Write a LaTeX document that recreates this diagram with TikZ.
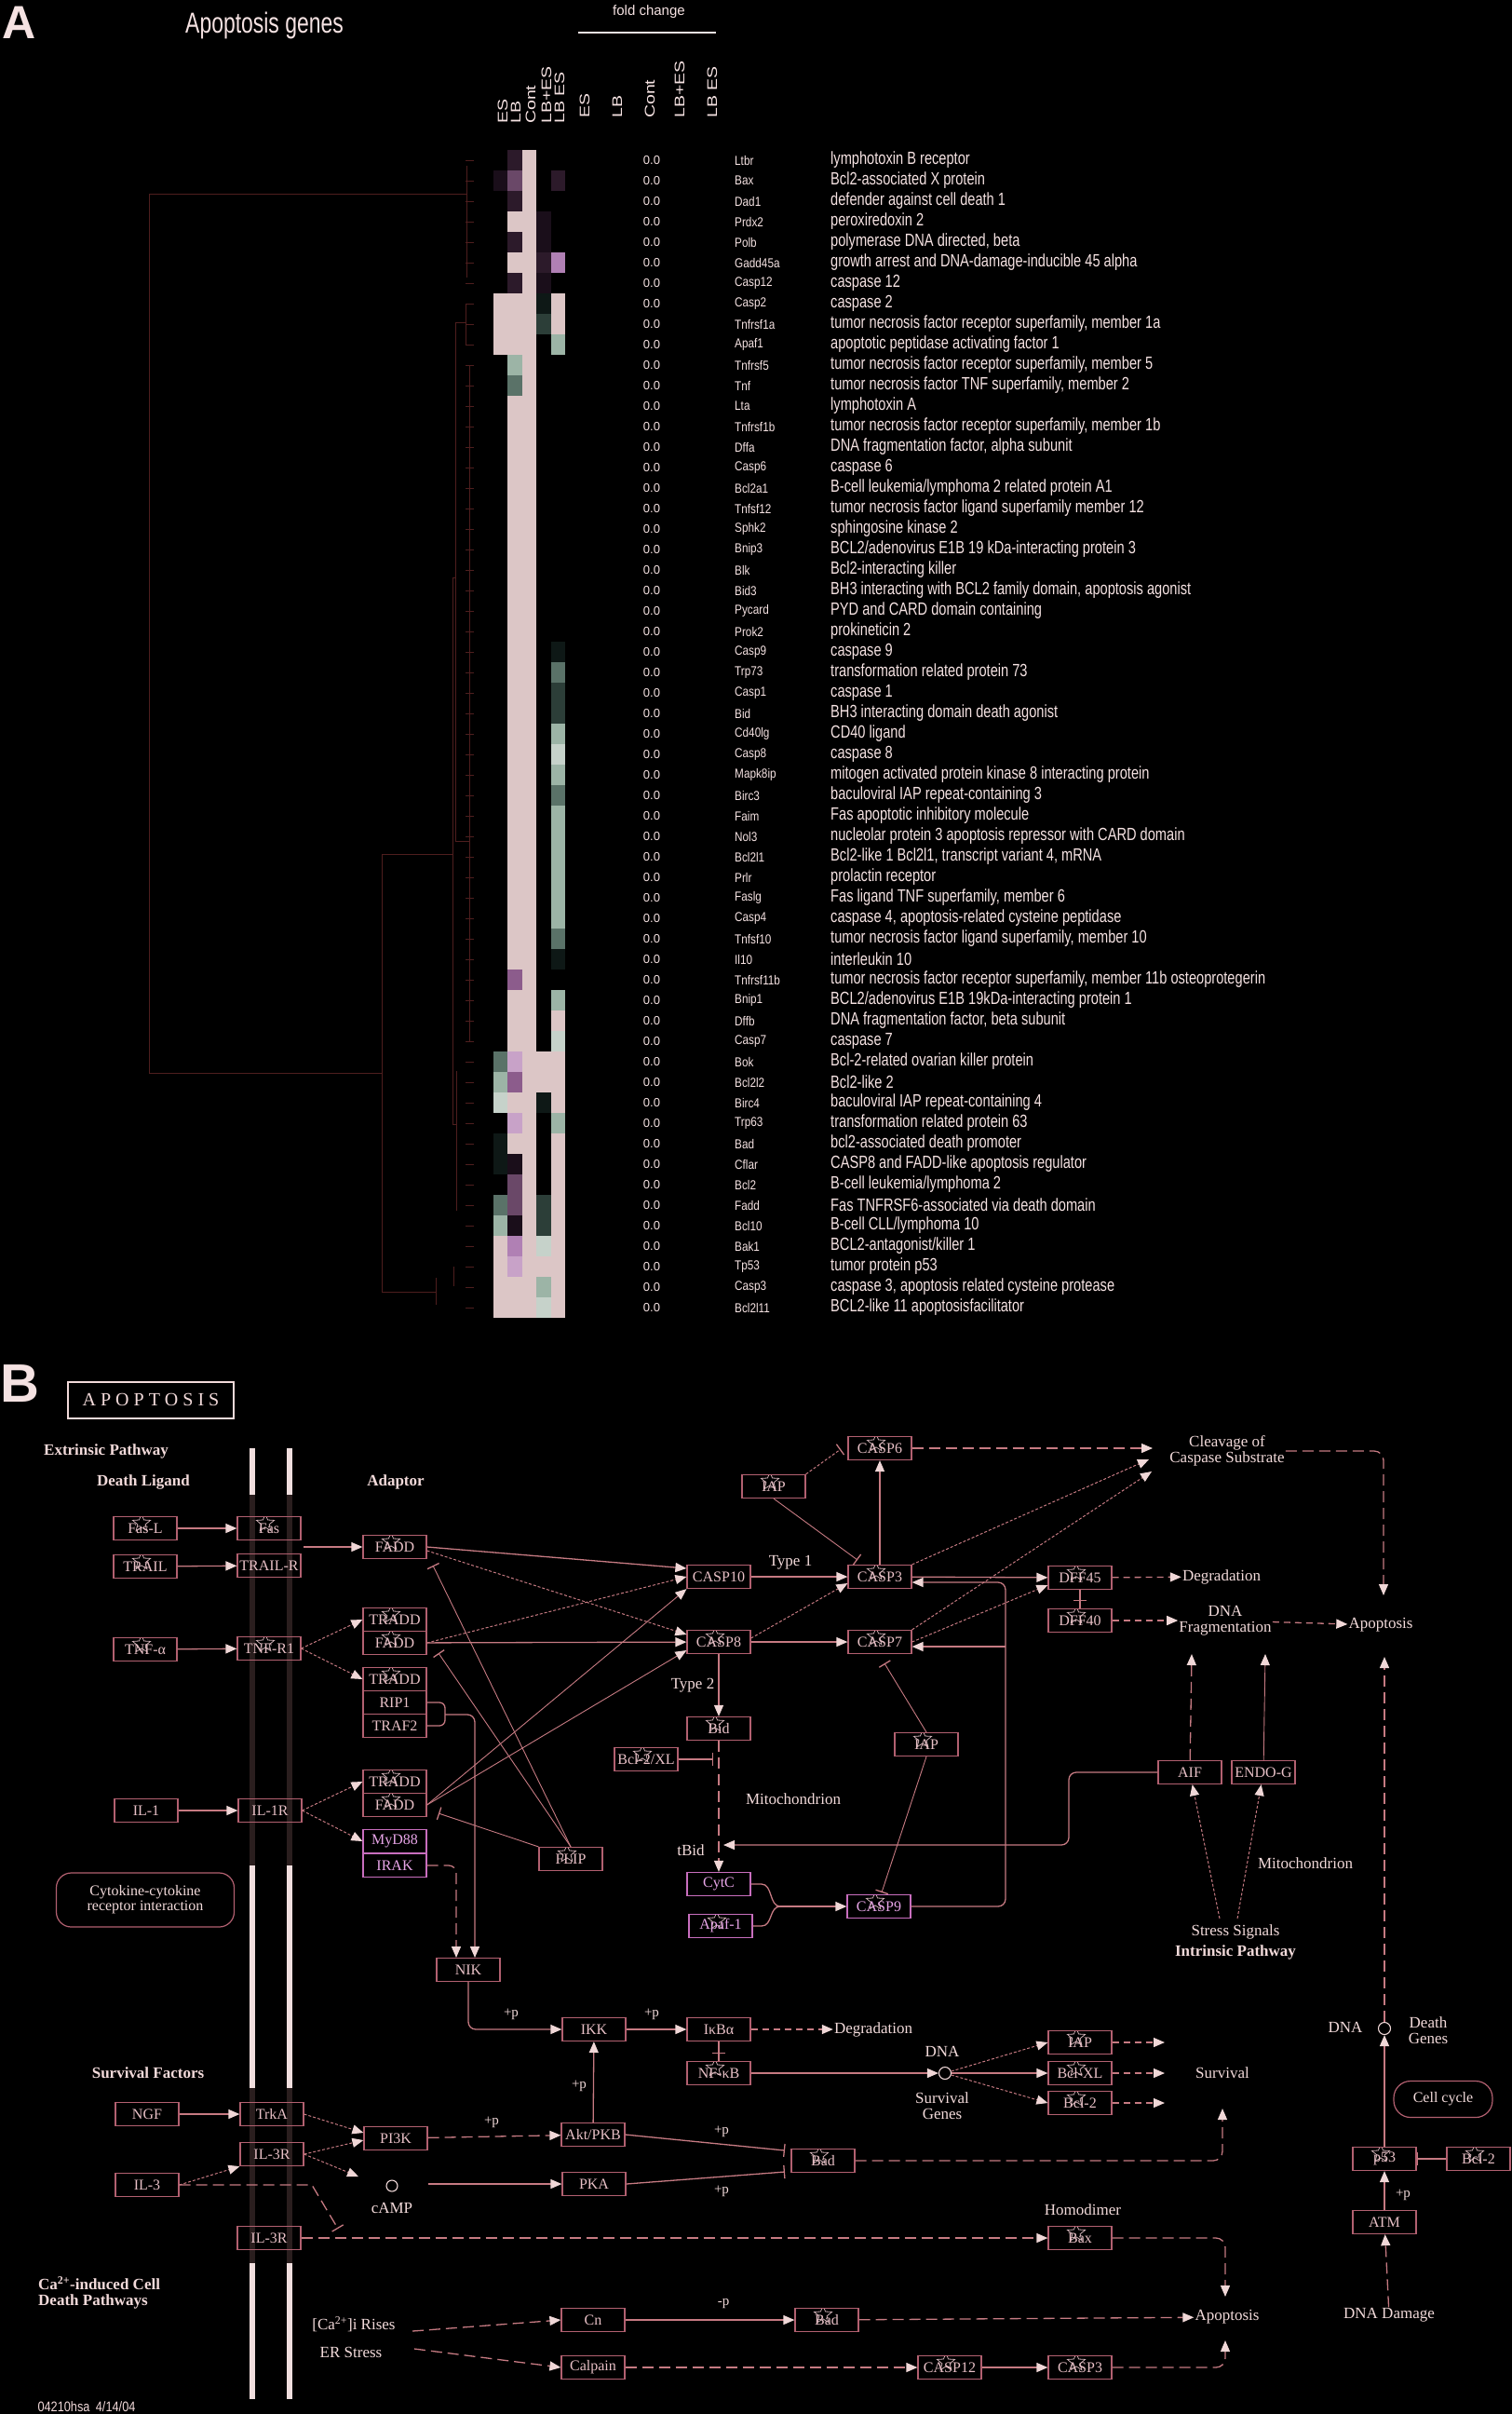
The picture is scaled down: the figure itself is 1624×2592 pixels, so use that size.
\documentclass[tikz,border=0pt]{standalone}
\usepackage{fontspec}
\setmainfont{Liberation Serif}
\setsansfont{Liberation Sans}
\usepackage{tikz}
\usetikzlibrary{arrows.meta,shapes.geometric,calc}

\newcommand{\fsz}[1]{\fontsize{#1}{#1}\selectfont}

\definecolor{txta}{RGB}{245,226,226}
\definecolor{dendc}{RGB}{78,30,30}
\definecolor{boxc}{RGB}{178,96,112}
\definecolor{boxt}{RGB}{232,192,198}
\definecolor{magc}{RGB}{200,110,190}
\definecolor{magt}{RGB}{232,165,232}
\definecolor{labt}{RGB}{242,218,218}
\definecolor{linec}{RGB}{198,122,130}
\definecolor{tipc}{RGB}{240,215,215}
\definecolor{starc}{RGB}{205,175,180}
\definecolor{memw}{RGB}{240,222,222}
\definecolor{memd}{RGB}{42,30,30}
% heat map colours
\definecolor{hk}{RGB}{0,0,0}
\definecolor{hp}{RGB}{220,198,198}
\definecolor{hd}{RGB}{44,26,42}
\definecolor{he}{RGB}{26,14,26}
\definecolor{hm}{RGB}{106,72,104}
\definecolor{hv}{RGB}{176,128,180}
\definecolor{hu}{RGB}{200,162,200}
\definecolor{hq}{RGB}{140,92,140}
\definecolor{hx}{RGB}{14,24,22}
\definecolor{hg}{RGB}{44,62,56}
\definecolor{hh}{RGB}{90,114,104}
\definecolor{hl}{RGB}{156,180,166}
\definecolor{hw}{RGB}{198,210,202}

\begin{document}
\begin{tikzpicture}[
    x=1pt, y=-1pt,
    gene/.style={draw=boxc, line width=1.2pt, text=boxt, font=\fsz{16}, minimum width=68pt, minimum height=25pt, inner sep=0pt},
    mgene/.style={gene, draw=magc, text=magt},
    starmk/.style={star, star points=5, star point ratio=2.3, minimum size=20pt, inner sep=0pt, fill=black, draw=starc, line width=0.8pt},
    hit/.style={path picture={\node[starmk] at ([xshift=-4pt,yshift=-7pt]path picture bounding box.north) {};}},
    lbl/.style={text=labt, font=\fsz{17}, align=center, inner sep=1pt},
    hdr/.style={text=labt, font=\bfseries\fsz{17}, align=left, inner sep=1pt},
    rbox/.style={draw=boxc, line width=1.2pt, text=labt, font=\fsz{16}, align=center, rounded corners=16pt},
    circ/.style={circle, draw=labt, line width=1.1pt, minimum size=13pt, inner sep=0pt},
    sol/.style={draw=linec, line width=1.3pt},
    thn/.style={draw=linec, line width=0.9pt},
    dsh/.style={draw=linec, line width=1.3pt, dash pattern=on 12pt off 6pt},
    dshs/.style={draw=linec, line width=1.3pt, dash pattern=on 7pt off 5pt},
    dot/.style={draw=linec, line width=1pt, dash pattern=on 3pt off 2pt},
    tip/.style={-{Triangle[length=12pt,width=10pt,color=tipc]}},
    inh/.style={-{Bar[width=14pt,line width=1.3pt]}},
    symt/.style={font=\sffamily\fsz{14}, text=txta, inner sep=0pt, anchor=west},
    dsct/.style={font=\sffamily\fsz{19}, text=txta, inner sep=0pt, anchor=west},
    fct/.style={font=\sffamily\fsz{13}, text=txta, inner sep=0pt},
    colh/.style={font=\sffamily\fsz{15}, text=txta, rotate=90, anchor=west, inner sep=0pt},
    dend/.style={draw=dendc, line width=0.8pt}
]
\useasboundingbox (0,0) rectangle (1624,2592);
\fill[black] (0,0) rectangle (1624,2592);

% ---------------- A: heat map ----------------
\node[font=\sffamily\bfseries\fsz{50}, text=txta, anchor=north west, inner sep=0pt] (labA) at (2,7) {A};
\node[font=\sffamily\fsz{31}, text=txta, anchor=base west, inner sep=0pt] (ttlA) at (199,35) {\scalebox{0.74}[1]{Apoptosis genes}};
\node[font=\sffamily\fsz{15}, text=txta, anchor=base, inner sep=0pt] (fold) at (697,16) {fold change};
\draw[draw=txta, line width=2pt] (621,35) -- (769,35);

\foreach \cx/\ct [count=\k] in {540/ES,554/LB,570/Cont,587/LB+ES,601/LB ES}
  \node[colh] (ha\k) at (\cx,133) {\scalebox{1.3}[1]{\ct}};
\foreach \cx/\ct [count=\k] in {628/ES,663/LB,698/Cont,730/LB+ES,765/LB ES}
  \node[colh] (hb\k) at (\cx,127) {\scalebox{1.3}[1]{\ct}};

% cells: ES, LB, Cont, LB+ES, LB ES
\foreach \r/\ca/\cb/\cc/\cd/\ce in {
  1/hk/hd/hp/hk/hk, 2/he/hm/hp/hk/hd, 3/hk/hd/hp/hk/hk, 4/hk/hp/hp/he/hk,
  5/hk/hd/hp/he/hk, 6/hk/hp/hp/hd/hv, 7/hk/hd/hp/he/hk, 8/hp/hp/hp/hx/hp,
  9/hp/hp/hp/hg/hp, 10/hp/hp/hp/hk/hl, 11/hk/hl/hp/hk/hk, 12/hk/hh/hp/hk/hk,
  13/hk/hp/hp/hk/hk, 14/hk/hp/hp/hk/hk, 15/hk/hp/hp/hk/hk, 16/hk/hp/hp/hk/hk,
  17/hk/hp/hp/hk/hk, 18/hk/hp/hp/hk/hk, 19/hk/hp/hp/hk/hk, 20/hk/hp/hp/hk/hk,
  21/hk/hp/hp/hk/hk, 22/hk/hp/hp/hk/hk, 23/hk/hp/hp/hk/hk, 24/hk/hp/hp/hk/hk,
  25/hk/hp/hp/hk/hx, 26/hk/hp/hp/hk/hh, 27/hk/hp/hp/hk/hg, 28/hk/hp/hp/hk/hg,
  29/hk/hp/hp/hk/hl, 30/hk/hp/hp/hk/hw, 31/hk/hp/hp/hk/hl, 32/hk/hp/hp/hk/hh,
  33/hk/hp/hp/hk/hl, 34/hk/hp/hp/hk/hl, 35/hk/hp/hp/hk/hl, 36/hk/hp/hp/hk/hl,
  37/hk/hp/hp/hk/hl, 38/hk/hp/hp/hk/hl, 39/hk/hp/hp/hk/hh, 40/hk/hp/hp/hk/hx,
  41/hk/hq/hp/hk/hk, 42/hk/hp/hp/hk/hl, 43/hk/hp/hp/hk/hp, 44/hk/hp/hp/hk/hw,
  45/hh/hu/hp/hp/hp, 46/hl/hq/hp/hp/hp, 47/hw/hp/hp/hx/hp, 48/hk/hu/hp/hk/hl,
  49/hx/hp/hp/hk/hp, 50/hx/he/hp/hk/hp, 51/hk/hm/hp/hk/hp, 52/hh/hm/hp/hg/hp,
  53/hl/he/hp/hg/hp, 54/hp/hv/hp/hw/hp, 55/hp/hu/hp/hp/hp, 56/hp/hp/hp/hl/hp,
  57/hp/hp/hp/hw/hp}{
  \foreach \c [count=\j from 0] in {\ca,\cb,\cc,\cd,\ce}
    \fill[\c] ({530+15.4*\j},{161+22*(\r-1)}) rectangle ++(15.4,22);
}

% dendrogram
\draw[dend] (501,208) -- (160,208) -- (160,1152) -- (410,1152);
\draw[dend] (486,917) -- (410,917) -- (410,1387) -- (468,1387);
\draw[dend] (489,620) -- (486,620) -- (486,1207) -- (490,1207);
\draw[dend] (500,346) -- (489,346) -- (489,903) -- (504,903);
\draw[dend] (501,178) -- (501,298);
\draw[dend] (500,326) -- (500,370);
\draw[dend] (504,392) -- (504,1118);
\draw[dend] (490,1150) -- (490,1300);
\draw[dend] (487,1360) -- (487,1381);
\draw[dend] (468,1372) -- (468,1401);
\foreach \i in {0,...,56}
  \draw[dend] (500,{172+22*\i}) -- (509,{172+22*\i});

% gene list
\foreach \sym/\desc [count=\i from 0] in {
  Ltbr/{lymphotoxin B receptor},
  Bax/{Bcl2-associated X protein},
  Dad1/{defender against cell death 1},
  Prdx2/{peroxiredoxin 2},
  Polb/{polymerase DNA directed, beta},
  Gadd45a/{growth arrest and DNA-damage-inducible 45 alpha},
  Casp12/{caspase 12},
  Casp2/{caspase 2},
  Tnfrsf1a/{tumor necrosis factor receptor superfamily, member 1a},
  Apaf1/{apoptotic peptidase activating factor 1},
  Tnfrsf5/{tumor necrosis factor receptor superfamily, member 5},
  Tnf/{tumor necrosis factor TNF superfamily, member 2},
  Lta/{lymphotoxin A},
  Tnfrsf1b/{tumor necrosis factor receptor superfamily, member 1b},
  Dffa/{DNA fragmentation factor, alpha subunit},
  Casp6/{caspase 6},
  Bcl2a1/{B-cell leukemia/lymphoma 2 related protein A1},
  Tnfsf12/{tumor necrosis factor ligand superfamily member 12},
  Sphk2/{sphingosine kinase 2},
  Bnip3/{BCL2/adenovirus E1B 19 kDa-interacting protein 3},
  Blk/{Bcl2-interacting killer},
  Bid3/{BH3 interacting with BCL2 family domain, apoptosis agonist},
  Pycard/{PYD and CARD domain containing},
  Prok2/{prokineticin 2},
  Casp9/{caspase 9},
  Trp73/{transformation related protein 73},
  Casp1/{caspase 1},
  Bid/{BH3 interacting domain death agonist},
  Cd40lg/{CD40 ligand},
  Casp8/{caspase 8},
  Mapk8ip/{mitogen activated protein kinase 8 interacting protein},
  Birc3/{baculoviral IAP repeat-containing 3},
  Faim/{Fas apoptotic inhibitory molecule},
  Nol3/{nucleolar protein 3 apoptosis repressor with CARD domain},
  Bcl2l1/{Bcl2-like 1 Bcl2l1, transcript variant 4, mRNA},
  Prlr/{prolactin receptor},
  Faslg/{Fas ligand TNF superfamily, member 6},
  Casp4/{caspase 4, apoptosis-related cysteine peptidase},
  Tnfsf10/{tumor necrosis factor ligand superfamily, member 10},
  Il10/{interleukin 10},
  Tnfrsf11b/{tumor necrosis factor receptor superfamily, member 11b osteoprotegerin},
  Bnip1/{BCL2/adenovirus E1B 19kDa-interacting protein 1},
  Dffb/{DNA fragmentation factor, beta subunit},
  Casp7/{caspase 7},
  Bok/{Bcl-2-related ovarian killer protein},
  Bcl2l2/{Bcl2-like 2},
  Birc4/{baculoviral IAP repeat-containing 4},
  Trp63/{transformation related protein 63},
  Bad/{bcl2-associated death promoter},
  Cflar/{CASP8 and FADD-like apoptosis regulator},
  Bcl2/{B-cell leukemia/lymphoma 2},
  Fadd/{Fas TNFRSF6-associated via death domain},
  Bcl10/{B-cell CLL/lymphoma 10},
  Bak1/{BCL2-antagonist/killer 1},
  Tp53/{tumor protein p53},
  Casp3/{caspase 3, apoptosis related cysteine protease},
  Bcl2l11/{BCL2-like 11 apoptosisfacilitator}}{
  \node[fct] (fc\i) at (700,{172+22*\i}) {0.0};
  \node[symt] (sym\i) at (789,{172+22*\i}) {\scalebox{0.84}[1]{\sym}};
  \node[dsct] (dsc\i) at (892,{172+22*\i}) {\scalebox{0.77}[1]{\desc}};
}

% ---------------- B: pathway ----------------
\node[font=\sffamily\bfseries\fsz{58}, text=txta, anchor=north west, inner sep=0pt] (labB) at (0,1465) {B};
\node[draw=labt, line width=2pt, text=labt, font=\fsz{20}, minimum width=178pt, minimum height=39pt] (ttlB) at (162,1503) {A P O P T O S I S};

% membrane
\foreach \xm in {268,308} {
  \fill[memw] (\xm,1555) rectangle ++(6,50);
  \fill[memd] (\xm,1605) rectangle ++(6,398);
  \fill[memw] (\xm,2003) rectangle ++(6,239);
  \fill[memd] (\xm,2242) rectangle ++(6,188);
  \fill[memw] (\xm,2430) rectangle ++(6,146);
}

\node[hdr] (extrinsic) at (114,1558) {Extrinsic Pathway};
\node[hdr] (deathlig) at (154,1591) {Death Ligand};
\node[hdr] (adaptor) at (425,1591) {Adaptor};
\node[hdr] (survfac) at (159,2226) {Survival Factors};
\node[hdr, anchor=west] (calcium) at (40,2462) {Ca\textsuperscript{2+}-induced Cell\\Death Pathways};
\node[hdr, align=center] (intrinsic) at (1327,2096) {Intrinsic Pathway};

% receptors and adaptors
\node[gene,hit] (fasl) at (156,1641) {Fas-L};
\node[gene,hit] (trail) at (156,1682) {TRAIL};
\node[gene,hit] (fas) at (289,1641) {Fas};
\node[gene] (trailr) at (289,1681) {TRAIL-R};
\node[gene,hit] (faddA) at (424,1661) {FADD};
\node[gene,hit] (tnfa) at (156,1771) {TNF-α};
\node[gene,hit] (tnfr) at (289,1770) {TNF-R1};
\node[gene,hit] (traddA) at (424,1739) {TRADD};
\node[gene,hit] (faddB) at (424,1764) {FADD};
\node[gene,hit] (traddB) at (424,1803) {TRADD};
\node[gene] (rip) at (424,1828) {RIP1};
\node[gene] (traf) at (424,1853) {TRAF2};
\node[gene] (ilone) at (157,1944) {IL-1};
\node[gene] (ilr) at (290,1944) {IL-1R};
\node[gene,hit] (traddC) at (424,1913) {TRADD};
\node[gene,hit] (faddC) at (424,1938) {FADD};
\node[mgene] (myd) at (424,1977) {MyD88};
\node[mgene] (irak) at (424,2003) {IRAK};
\node[gene,hit] (flip) at (613,1996) {FLIP};
\node[rbox, minimum width=191pt, minimum height=58pt] (cytokine) at (156,2040) {Cytokine-cytokine\\receptor interaction};

% caspases
\node[gene] (casp10) at (772,1693) {CASP10};
\node[gene,hit] (caspeight) at (772,1763) {CASP8};
\node[gene,hit] (bid) at (772,1856) {Bid};
\node[gene,hit] (bclxl) at (694,1889) {Bcl-2/XL};
\node[mgene] (cytc) at (772,2023) {CytC};
\node[mgene,hit] (apaf) at (774,2068) {Apaf-1};
\node[mgene,hit] (caspnine) at (944,2047) {CASP9};
\node[gene,hit] (caspsix) at (945,1555) {CASP6};
\node[gene,hit] (iapA) at (831,1596) {IAP};
\node[gene,hit] (caspthree) at (945,1693) {CASP3};
\node[gene,hit] (caspseven) at (945,1763) {CASP7};
\node[gene,hit] (dffA) at (1160,1694) {DFF45};
\node[gene,hit] (dffB) at (1160,1740) {DFF40};
\node[gene,hit] (iapB) at (995,1873) {IAP};
\node[gene] (aif) at (1278,1903) {AIF};
\node[gene] (endog) at (1357,1903) {ENDO-G};

\node[lbl] (typeone) at (849,1678) {Type 1};
\node[lbl] (typetwo) at (744,1810) {Type 2};
\node[lbl] (mitoA) at (852,1932) {Mitochondrion};
\node[lbl] (tbid) at (742,1987) {tBid};
\node[lbl] (mitoB) at (1402,2001) {Mitochondrion};
\node[lbl] (stress) at (1327,2074) {Stress Signals};
\node[lbl] (cleave) at (1318,1558) {Cleavage of\\Caspase Substrate};
\node[lbl] (degA) at (1312,1693) {Degradation};
\node[lbl] (dnafrag) at (1316,1740) {DNA\\Fragmentation};
\node[lbl] (apopA) at (1483,1745) {Apoptosis};

% survival
\node[gene] (nik) at (503,2115) {NIK};
\node[gene] (ikk) at (638,2179) {IKK};
\node[gene] (ikba) at (772,2179) {IκBα};
\node[gene,hit] (nfkb) at (772,2226) {NF-κB};
\node[gene,hit] (iapC) at (1160,2193) {IAP};
\node[gene,hit] (bclxlB) at (1160,2226) {Bcl-XL};
\node[gene,hit] (bcltwoB) at (1160,2258) {Bcl-2};
\node[gene] (ngf) at (158,2270) {NGF};
\node[gene] (trka) at (292,2270) {TrkA};
\node[gene] (ilthreeR) at (292,2313) {IL-3R};
\node[gene] (ilthree) at (158,2346) {IL-3};
\node[gene] (pik) at (425,2296) {PI3K};
\node[gene] (akt) at (637,2292) {Akt/PKB};
\node[gene] (pka) at (638,2345) {PKA};
\node[gene] (ilthreeRb) at (289,2403) {IL-3R};
\node[gene,hit] (badA) at (884,2320) {Bad};
\node[gene,hit] (bax) at (1160,2403) {Bax};
\node[gene] (cn) at (637,2491) {Cn};
\node[gene] (calpain) at (637,2542) {Calpain};
\node[gene,hit] (badB) at (888,2491) {Bad};
\node[gene,hit] (casptwelve) at (1020,2542) {CASP12};
\node[gene,hit] (caspthreeB) at (1160,2542) {CASP3};
\node[gene,hit] (ptf) at (1487,2318) {p53};
\node[gene,hit] (bcltwoC) at (1588,2318) {Bcl-2};
\node[gene] (atm) at (1487,2386) {ATM};

\node[lbl] (degB) at (938,2179) {Degradation};
\node[lbl] (dnaB) at (1012,2203) {DNA};
\node[circ] (dnaCirc) at (1015,2226) {};
\node[lbl] (survgenes) at (1012,2261) {Survival\\Genes};
\node[lbl] (survival) at (1313,2226) {Survival};
\node[circ, minimum size=12pt] (campCirc) at (421,2347) {};
\node[lbl] (camp) at (421,2371) {cAMP};
\node[lbl] (homodimer) at (1163,2373) {Homodimer};
\node[lbl] (apopB) at (1318,2488) {Apoptosis};
\node[lbl] (carise) at (380,2496) {[Ca\textsuperscript{2+}]i Rises};
\node[lbl] (erstress) at (377,2526) {ER Stress};
\node[lbl] (dnaC) at (1445,2177) {DNA};
\node[circ] (dnaCircR) at (1487,2178) {};
\node[lbl] (deathgenes) at (1534,2180) {Death\\Genes};
\node[rbox, minimum width=106pt, minimum height=39pt, rounded corners=18pt] (cellcycle) at (1550,2254) {Cell cycle};
\node[lbl] (dnadamage) at (1492,2486) {DNA Damage};
\node[font=\sffamily\fsz{15}, text=labt, inner sep=0pt] (version) at (93,2584) {\scalebox{0.85}[1]{04210hsa\enspace 4/14/04}};

\foreach \px/\py/\pt [count=\k] in {549/2163/+p, 700/2163/+p, 622/2240/+p, 528/2279/+p,
    775/2289/+p, 775/2353/+p, 1507/2357/+p, 777/2474/-p}
  \node[lbl, font=\fsz{15}] (ph\k) at (\px,\py) {\pt};

% free ends
\coordinate (rcpout) at (326,1661);
\coordinate (flipinA) at (465,1681);
\coordinate (flipinB) at (471,1775);
\coordinate (flipinC) at (471,1947);
\coordinate (ripjoin) at (478,1841);
\coordinate (nikinA) at (490,2102);
\coordinate (nikinB) at (510,2102);
\coordinate (tbidin) at (777,1981);
\coordinate (casjoin) at (838,2047);
\coordinate (c9branch) at (1080,1768);
\coordinate (bclbar) at (766,1889);
\coordinate (p6bar) at (903,1556);
\coordinate (p3bar) at (921,1675);
\coordinate (p7bar) at (950,1786);
\coordinate (p9bar) at (947,2032);
\coordinate (cleaveA) at (1238,1555);
\coordinate (cleaveB) at (1234,1567);
\coordinate (cleaveC) at (1237,1580);
\coordinate (dffbar) at (1160,1719);
\coordinate (fragL) at (1280,1776);
\coordinate (fragR) at (1359,1776);
\coordinate (stressL) at (1310,2060);
\coordinate (stressR) at (1329,2060);
\coordinate (apopAtop) at (1486,1713);
\coordinate (apopAbot) at (1487,1779);
\coordinate (nfbar) at (772,2205);
\coordinate (survA) at (1251,2193);
\coordinate (survB) at (1251,2226);
\coordinate (survC) at (1251,2258);
\coordinate (survIn) at (1313,2264);
\coordinate (campIn) at (385,2337);
\coordinate (campOut) at (460,2345);
\coordinate (badbarA) at (843,2309);
\coordinate (badbarB) at (843,2332);
\coordinate (ilbar) at (363,2393);
\coordinate (apopBtop) at (1316,2466);
\coordinate (apopBbot) at (1316,2513);
\coordinate (caOut) at (443,2503);
\coordinate (erOut) at (445,2522);

% extrinsic connectors
\draw[sol,tip] (fasl) -- (fas);
\draw[sol,tip] (trail) -- (trailr);
\draw[sol,tip] (tnfa) -- (tnfr);
\draw[sol,tip] (ilone) -- (ilr);
\draw[sol,tip] (rcpout) -- (faddA);
\draw[dot,tip] (tnfr.east) -- (traddA.west);
\draw[dot,tip] (tnfr.east) -- (traddB.west);
\draw[dot,tip] (ilr.east) -- (traddC.west);
\draw[dot,tip] (ilr.east) -- (myd.west);
\draw[sol,tip] (faddA.east) -- ([yshift=9pt]casp10.west);
\draw[dot,tip] ([yshift=-4pt]faddA.east) -- ([yshift=8pt]caspeight.west);
\draw[dot,tip] (faddB.east) -- (casp10.west);
\draw[sol,tip] (faddB) -- (caspeight);
\draw[thn,tip] (faddC.east) -- (casp10.south west);
\draw[thn,tip] (faddC.east) -- ([yshift=-9pt]caspeight.west);
\draw[thn,inh] (flip.north) -- (flipinA);
\draw[thn,inh] (flip.north) -- (flipinB);
\draw[thn,inh] (flip.north west) -- (flipinC);
\draw[sol,rounded corners=6pt] (rip.east) -- (478,1828) -- (478,1853) -- (traf.east);
\draw[sol,tip,rounded corners=8pt] (ripjoin) -| (nikinB);
\draw[dsh,tip,rounded corners=8pt] (irak.east) -| (nikinA);

% caspase cascade
\draw[sol,tip] (casp10) -- (caspthree);
\draw[sol,tip] (caspeight) -- (caspseven);
\draw[dot,tip] ([yshift=4pt]caspeight.east) -- ([yshift=-7pt]caspthree.west);
\draw[sol,tip] (caspeight) -- (bid);
\draw[dsh,tip] (bid) -- (cytc);
\draw[sol,inh] (bclxl) -- (bclbar);
\draw[sol,tip,rounded corners=8pt] (aif.west) -- (1148,1903) -- (1148,1981) -- (tbidin);
\draw[sol] (cytc.east) -- (818,2023) .. controls (830,2023) and (826,2047) .. (casjoin);
\draw[sol] (apaf.east) -- (818,2068) .. controls (830,2068) and (826,2047) .. (casjoin);
\draw[sol,tip] (casjoin) -- (caspnine);
\draw[sol,tip,rounded corners=8pt] (caspnine.east) -- (1080,2047) -- (1080,1699) -- ([yshift=-6pt]caspthree.east);
\draw[sol,tip] (c9branch) -- ([yshift=-5pt]caspseven.east);
\draw[sol,tip] (caspthree) -- (caspsix);
\draw[dot,inh] (iapA.north east) -- (p6bar);
\draw[thn,inh] (iapA.south) -- (p3bar);
\draw[sol,tip] (caspthree) -- (dffA);
\draw[dot,tip] (caspthree.north east) -- (cleaveB);
\draw[dot,tip] (caspseven.north east) -- (cleaveC);
\draw[dot,tip] (caspseven.east) -- ([yshift=-8pt]dffA.west);
\draw[dsh,tip] (caspsix) -- (cleaveA);
\draw[dshs,tip] (dffA) -- (degA);
\draw[sol,inh] (dffA) -- (dffbar);
\draw[sol] (dffbar) -- (dffB);
\draw[dshs,tip] (dffB) -- (dnafrag);
\draw[dshs,tip] (dnafrag) -- (apopA);
\draw[dsh,tip,rounded corners=10pt] (cleave.east) -| (apopAtop);
\draw[dsh,tip] (aif) -- (fragL);
\draw[thn,tip] (endog) -- (fragR);
\draw[dot,tip] (stressL) -- (aif);
\draw[dot,tip] (stressR) -- (endog);
\draw[thn,inh] (iapB.north) -- (p7bar);
\draw[thn,inh] (iapB.south) -- (p9bar);
\draw[dsh,tip] (dnaCircR) -- (apopAbot);

% survival connectors
\draw[sol,tip,rounded corners=8pt] (nik.south) |- (ikk.west);
\draw[sol,tip] (ikk) -- (ikba);
\draw[dshs,tip] (ikba) -- (degB);
\draw[sol] (ikba) -- (nfkb);
\draw[sol,inh] (ikba) -- (nfbar);
\draw[sol,tip] (nfkb) -- (dnaCirc);
\draw[dot,tip] (dnaCirc) -- (iapC.west);
\draw[sol,tip] (dnaCirc) -- (bclxlB);
\draw[dot,tip] (dnaCirc) -- (bcltwoB.west);
\draw[dshs,tip] (iapC) -- (survA);
\draw[dshs,tip] (bclxlB) -- (survB);
\draw[dshs,tip] (bcltwoB) -- (survC);
\draw[sol,tip] (ngf) -- (trka);
\draw[dot,tip] (trka.east) -- ([yshift=6pt]pik.west);
\draw[dot,tip] (ilthree.east) -- (ilthreeR.south west);
\draw[dot,tip] (ilthreeR.east) -- ([yshift=-2pt]pik.west);
\draw[dot,tip] (ilthreeR.east) -- (campIn);
\draw[dsh,tip] (pik) -- (akt);
\draw[sol,tip] (akt) -- (ikk);
\draw[sol,tip] (campOut) -- (pka);
\draw[sol,inh] (akt.east) -- (badbarA);
\draw[sol,inh] (pka.east) -- (badbarB);
\draw[dsh,tip,rounded corners=10pt] (badA.east) -| (survIn);
\draw[dsh,inh] (ilthree.east) -- (335,2346) -- (ilbar);
\draw[dsh,tip] (ilthreeRb) -- (bax);
\draw[dsh,tip,rounded corners=10pt] (bax.east) -| (apopBtop);

% calcium and DNA damage
\draw[dsh,tip] (caOut) -- (cn.west);
\draw[dsh,tip] (erOut) -- (calpain.west);
\draw[sol,tip] (cn) -- (badB);
\draw[dsh,tip] (badB) -- (apopB);
\draw[dsh,tip] (calpain) -- (casptwelve);
\draw[sol,tip] (casptwelve) -- (caspthreeB);
\draw[dsh,tip,rounded corners=10pt] (caspthreeB.east) -| (apopBbot);
\draw[dsh,tip] (dnadamage) -- (atm);
\draw[sol,tip] (atm) -- (ptf);
\draw[sol,inh] (bcltwoC) -- (ptf);
\draw[sol,tip] (ptf) -- (dnaCircR);
\end{tikzpicture}
\end{document}
